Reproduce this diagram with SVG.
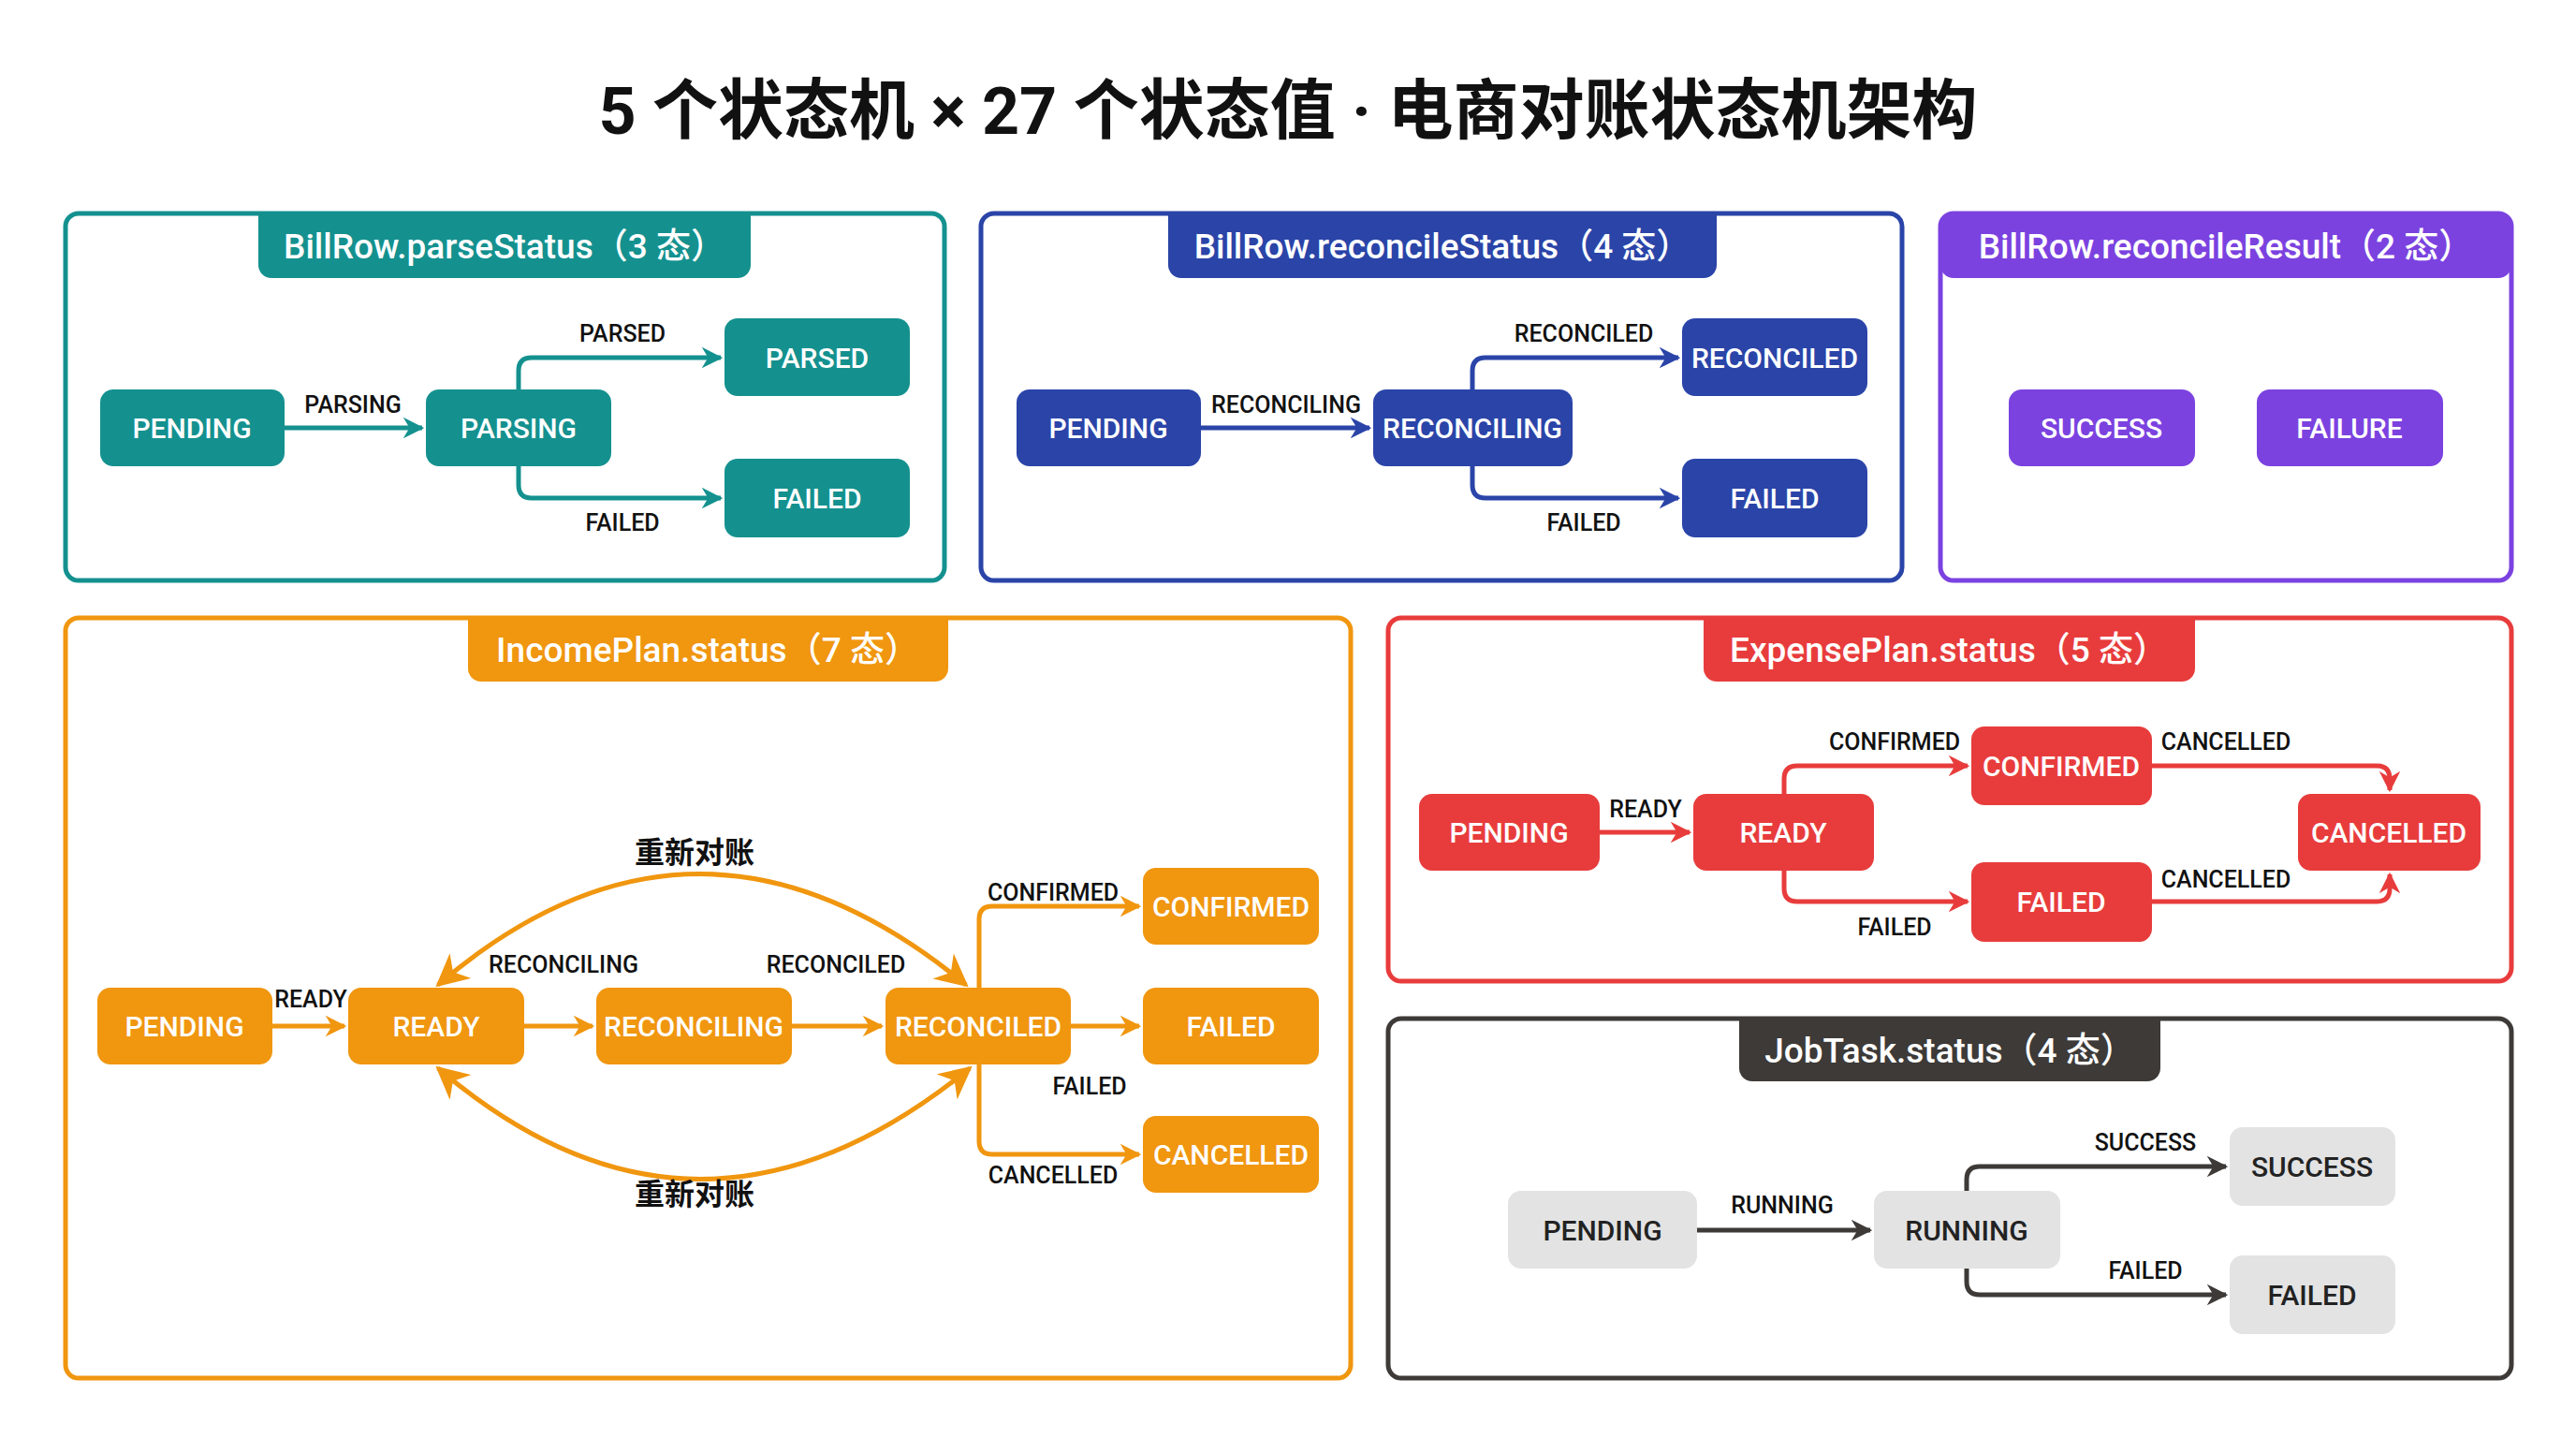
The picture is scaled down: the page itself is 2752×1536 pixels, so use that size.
<svg xmlns="http://www.w3.org/2000/svg" width="2752" height="1536" viewBox="0 0 2752 1536">
<style>
text{font-family:Roboto,"Liberation Sans","Noto Sans CJK SC",sans-serif}
.title{font-size:70px;font-weight:700;fill:#111;text-anchor:middle}
.tab{font-size:37px;font-weight:500;fill:#fff;text-anchor:middle}
.nt{font-size:30px;font-weight:500;fill:#fff;text-anchor:middle;dominant-baseline:central}
.ntd{font-size:30px;font-weight:500;fill:#222;text-anchor:middle;dominant-baseline:central}
.lb{font-size:25px;font-weight:500;fill:#111;text-anchor:middle}
.cn{font-size:32px;font-weight:700;fill:#111;text-anchor:middle}
.panel{fill:#fff;stroke-width:5}
.e{fill:none;stroke-width:5}
</style>
<defs>
<marker id="mt" viewBox="0 0 10 10" refX="9" refY="5" markerWidth="4.5" markerHeight="4.5" orient="auto-start-reverse"><path d="M0,0L10,5L0,10L3,5Z" fill="#14918f"/></marker>
<marker id="mb" viewBox="0 0 10 10" refX="9" refY="5" markerWidth="4.5" markerHeight="4.5" orient="auto-start-reverse"><path d="M0,0L10,5L0,10L3,5Z" fill="#2a44a8"/></marker>
<marker id="mo" viewBox="0 0 10 10" refX="9" refY="5" markerWidth="4.5" markerHeight="4.5" orient="auto-start-reverse"><path d="M0,0L10,5L0,10L3,5Z" fill="#f0960f"/></marker>
<marker id="mo2" viewBox="0 0 10 10" refX="9" refY="5" markerWidth="7" markerHeight="7" orient="auto-start-reverse"><path d="M0,0L10,5L0,10L3,5Z" fill="#f0960f"/></marker>
<marker id="mr" viewBox="0 0 10 10" refX="9" refY="5" markerWidth="4.5" markerHeight="4.5" orient="auto-start-reverse"><path d="M0,0L10,5L0,10L3,5Z" fill="#e83c3c"/></marker>
<marker id="md" viewBox="0 0 10 10" refX="9" refY="5" markerWidth="4.5" markerHeight="4.5" orient="auto-start-reverse"><path d="M0,0L10,5L0,10L3,5Z" fill="#3d3a38"/></marker>
</defs>
<rect width="2752" height="1536" fill="#fff"/>
<text class="title" x="1376" y="143">5 个状态机 × 27 个状态值 · 电商对账状态机架构</text>

<g id="p1">
<rect class="panel" x="70" y="228" width="939" height="392" rx="14" stroke="#14918f"/>
<path d="M276,228H802V283a14,14 0 0 1-14,14H290a14,14 0 0 1-14-14Z" fill="#14918f"/>
<text class="tab" x="539" y="276">BillRow.parseStatus（3 态）</text>
</g>
<g id="p1-pending"><rect x="107" y="416" width="197" height="82" rx="14" fill="#14918f"/><text class="nt" x="205" y="457">PENDING</text></g>
<g id="p1-parsing"><rect x="455" y="416" width="198" height="82" rx="14" fill="#14918f"/><text class="nt" x="554" y="457">PARSING</text></g>
<g id="p1-parsed"><rect x="774" y="340" width="198" height="83" rx="14" fill="#14918f"/><text class="nt" x="873" y="382">PARSED</text></g>
<g id="p1-failed"><rect x="774" y="490" width="198" height="84" rx="14" fill="#14918f"/><text class="nt" x="873" y="532">FAILED</text></g>

<g id="p2">
<rect class="panel" x="1048" y="228" width="984" height="392" rx="14" stroke="#2a44a8"/>
<path d="M1248,228H1834V283a14,14 0 0 1-14,14H1262a14,14 0 0 1-14-14Z" fill="#2a44a8"/>
<text class="tab" x="1541" y="276">BillRow.reconcileStatus（4 态）</text>
</g>
<g id="p2-pending"><rect x="1086" y="416" width="197" height="82" rx="14" fill="#2a44a8"/><text class="nt" x="1184" y="457">PENDING</text></g>
<g id="p2-reconciling"><rect x="1467" y="416" width="213" height="82" rx="14" fill="#2a44a8"/><text class="nt" x="1573" y="457">RECONCILING</text></g>
<g id="p2-reconciled"><rect x="1797" y="340" width="198" height="83" rx="14" fill="#2a44a8"/><text class="nt" x="1896" y="382">RECONCILED</text></g>
<g id="p2-failed"><rect x="1797" y="490" width="198" height="84" rx="14" fill="#2a44a8"/><text class="nt" x="1896" y="532">FAILED</text></g>

<g id="p3">
<rect class="panel" x="2073" y="228" width="610" height="392" rx="14" stroke="#7b42e0"/>
<path d="M2087,228H2669a14,14 0 0 1 14,14V283a14,14 0 0 1-14,14H2087a14,14 0 0 1-14-14V242a14,14 0 0 1 14-14Z" fill="#7b42e0"/>
<text class="tab" x="2378" y="276">BillRow.reconcileResult（2 态）</text>
</g>
<g id="p3-success"><rect x="2146" y="416" width="199" height="82" rx="14" fill="#7b42e0"/><text class="nt" x="2245" y="457">SUCCESS</text></g>
<g id="p3-failure"><rect x="2411" y="416" width="199" height="82" rx="14" fill="#7b42e0"/><text class="nt" x="2510" y="457">FAILURE</text></g>

<g id="p4">
<rect class="panel" x="70" y="660" width="1373" height="812" rx="14" stroke="#f0960f"/>
<path d="M500,660H1013V714a14,14 0 0 1-14,14H514a14,14 0 0 1-14-14Z" fill="#f0960f"/>
<text class="tab" x="756" y="707">IncomePlan.status（7 态）</text>
</g>
<g id="p4-pending"><rect x="104" y="1055" width="187" height="82" rx="14" fill="#f0960f"/><text class="nt" x="197" y="1096">PENDING</text></g>
<g id="p4-ready"><rect x="372" y="1055" width="188" height="82" rx="14" fill="#f0960f"/><text class="nt" x="466" y="1096">READY</text></g>
<g id="p4-reconciling"><rect x="637" y="1055" width="209" height="82" rx="14" fill="#f0960f"/><text class="nt" x="741" y="1096">RECONCILING</text></g>
<g id="p4-reconciled"><rect x="946" y="1055" width="198" height="82" rx="14" fill="#f0960f"/><text class="nt" x="1045" y="1096">RECONCILED</text></g>
<g id="p4-confirmed"><rect x="1221" y="927" width="188" height="82" rx="14" fill="#f0960f"/><text class="nt" x="1315" y="968">CONFIRMED</text></g>
<g id="p4-failed"><rect x="1221" y="1055" width="188" height="82" rx="14" fill="#f0960f"/><text class="nt" x="1315" y="1096">FAILED</text></g>
<g id="p4-cancelled"><rect x="1221" y="1192" width="188" height="82" rx="14" fill="#f0960f"/><text class="nt" x="1315" y="1233">CANCELLED</text></g>

<g id="p5">
<rect class="panel" x="1483" y="660" width="1200" height="388" rx="14" stroke="#e83c3c"/>
<path d="M1820,660H2345V714a14,14 0 0 1-14,14H1834a14,14 0 0 1-14-14Z" fill="#e83c3c"/>
<text class="tab" x="2082" y="707">ExpensePlan.status（5 态）</text>
</g>
<g id="p5-pending"><rect x="1516" y="848" width="193" height="82" rx="14" fill="#e83c3c"/><text class="nt" x="1612" y="889">PENDING</text></g>
<g id="p5-ready"><rect x="1809" y="848" width="193" height="82" rx="14" fill="#e83c3c"/><text class="nt" x="1905" y="889">READY</text></g>
<g id="p5-confirmed"><rect x="2106" y="776" width="193" height="84" rx="14" fill="#e83c3c"/><text class="nt" x="2202" y="818">CONFIRMED</text></g>
<g id="p5-failed"><rect x="2106" y="921" width="193" height="85" rx="14" fill="#e83c3c"/><text class="nt" x="2202" y="963">FAILED</text></g>
<g id="p5-cancelled"><rect x="2455" y="848" width="195" height="82" rx="14" fill="#e83c3c"/><text class="nt" x="2552" y="889">CANCELLED</text></g>

<g id="p6">
<rect class="panel" x="1483" y="1088" width="1200" height="384" rx="14" stroke="#3d3a38"/>
<path d="M1858,1088H2308V1141a14,14 0 0 1-14,14H1872a14,14 0 0 1-14-14Z" fill="#3d3a38"/>
<text class="tab" x="2083" y="1135">JobTask.status（4 态）</text>
</g>
<g id="p6-pending"><rect x="1611" y="1272" width="202" height="83" rx="14" fill="#e3e3e3"/><text class="ntd" x="1712" y="1314">PENDING</text></g>
<g id="p6-running"><rect x="2002" y="1272" width="199" height="83" rx="14" fill="#e3e3e3"/><text class="ntd" x="2101" y="1314">RUNNING</text></g>
<g id="p6-success"><rect x="2382" y="1204" width="177" height="84" rx="14" fill="#e3e3e3"/><text class="ntd" x="2470" y="1246">SUCCESS</text></g>
<g id="p6-failed"><rect x="2382" y="1341" width="177" height="84" rx="14" fill="#e3e3e3"/><text class="ntd" x="2470" y="1383">FAILED</text></g>

<g id="connectors">
<path class="e" stroke="#14918f" marker-end="url(#mt)" d="M304,457H451"/>
<path class="e" stroke="#14918f" marker-end="url(#mt)" d="M554,416V396q0-14 14-14H770"/>
<path class="e" stroke="#14918f" marker-end="url(#mt)" d="M554,498V518q0,14 14,14H770"/>
<path class="e" stroke="#2a44a8" marker-end="url(#mb)" d="M1283,457H1463"/>
<path class="e" stroke="#2a44a8" marker-end="url(#mb)" d="M1573,416V396q0-14 14-14H1793"/>
<path class="e" stroke="#2a44a8" marker-end="url(#mb)" d="M1573,498V518q0,14 14,14H1793"/>

<path class="e" stroke="#f0960f" marker-end="url(#mo)" d="M291,1096H368"/>
<path class="e" stroke="#f0960f" marker-end="url(#mo)" d="M560,1096H633"/>
<path class="e" stroke="#f0960f" marker-end="url(#mo)" d="M846,1096H942"/>
<path class="e" stroke="#f0960f" marker-end="url(#mo)" d="M1144,1096H1217"/>
<path class="e" stroke="#f0960f" marker-end="url(#mo)" d="M1046,1055V982q0-14 14-14H1217"/>
<path class="e" stroke="#f0960f" marker-end="url(#mo)" d="M1046,1137V1219q0,14 14,14H1217"/>
<path class="e" stroke="#f0960f" stroke-width="6" marker-start="url(#mo2)" marker-end="url(#mo2)" d="M468,1052Q745,815 1032,1052"/>
<path class="e" stroke="#f0960f" stroke-width="6" marker-start="url(#mo2)" marker-end="url(#mo2)" d="M468,1141Q745,1378 1036,1141"/>

<path class="e" stroke="#e83c3c" marker-end="url(#mr)" d="M1709,889H1805"/>
<path class="e" stroke="#e83c3c" marker-end="url(#mr)" d="M1906,848V832q0-14 14-14H2102"/>
<path class="e" stroke="#e83c3c" marker-end="url(#mr)" d="M1906,930V949q0,14 14,14H2102"/>
<path class="e" stroke="#e83c3c" marker-end="url(#mr)" d="M2299,818H2539q14,0 14,14V844"/>
<path class="e" stroke="#e83c3c" marker-end="url(#mr)" d="M2299,963H2539q14,0 14-14V934"/>

<path class="e" stroke="#3d3a38" marker-end="url(#md)" d="M1813,1314H1998"/>
<path class="e" stroke="#3d3a38" marker-end="url(#md)" d="M2101,1272V1260q0-14 14-14H2378"/>
<path class="e" stroke="#3d3a38" marker-end="url(#md)" d="M2101,1355V1369q0,14 14,14H2378"/>

<text class="lb" x="377" y="441">PARSING</text>
<text class="lb" x="665" y="365">PARSED</text>
<text class="lb" x="665" y="567">FAILED</text>
<text class="lb" x="1374" y="441">RECONCILING</text>
<text class="lb" x="1692" y="365">RECONCILED</text>
<text class="lb" x="1692" y="567">FAILED</text>
<text class="lb" x="332" y="1076">READY</text>
<text class="lb" x="602" y="1039">RECONCILING</text>
<text class="lb" x="893" y="1039">RECONCILED</text>
<text class="lb" x="1125" y="962">CONFIRMED</text>
<text class="lb" x="1164" y="1169">FAILED</text>
<text class="lb" x="1125" y="1264">CANCELLED</text>
<text class="cn" x="742" y="922">重新对账</text>
<text class="cn" x="742" y="1287">重新对账</text>
<text class="lb" x="1758" y="873">READY</text>
<text class="lb" x="2024" y="801">CONFIRMED</text>
<text class="lb" x="2378" y="801">CANCELLED</text>
<text class="lb" x="2378" y="948">CANCELLED</text>
<text class="lb" x="2024" y="999">FAILED</text>
<text class="lb" x="1904" y="1296">RUNNING</text>
<text class="lb" x="2292" y="1229">SUCCESS</text>
<text class="lb" x="2292" y="1366">FAILED</text>
</g>
</svg>
